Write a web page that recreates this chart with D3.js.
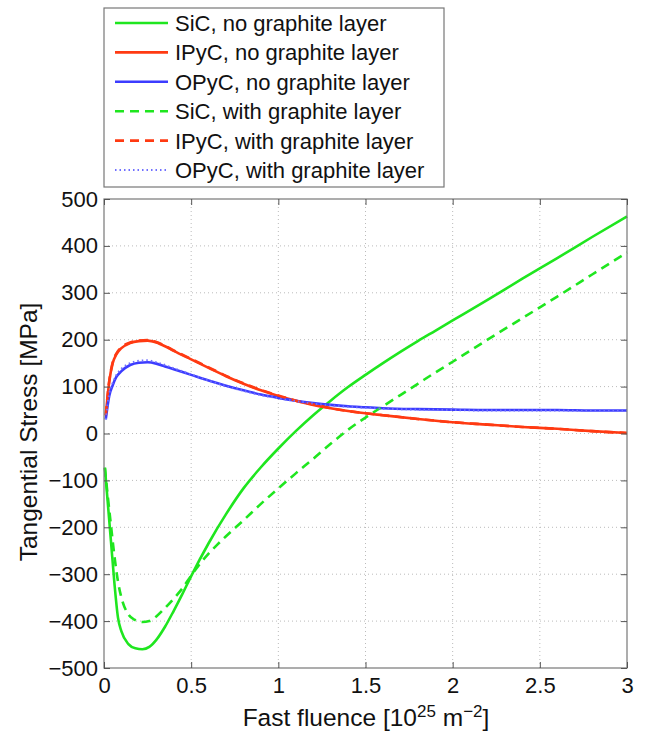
<!DOCTYPE html>
<html><head><meta charset="utf-8">
<script src="https://cdn.jsdelivr.net/npm/d3@7"></script>
<style>body{margin:0;background:#fff}text{font-family:"Liberation Sans",Arial,sans-serif;fill:#111}</style>
</head><body><svg id="c" width="646" height="734"></svg>
<script>
// ---- data ----
const xTicks = [0, 0.5, 1, 1.5, 2, 2.5, 3];
const yTicks = [-500, -400, -300, -200, -100, 0, 100, 200, 300, 400, 500];

const sicNoX = [0.005,0.02,0.04,0.06,0.08,0.1,0.14,0.18,0.22,0.26,0.3,0.35,0.4,0.45,0.5,0.6,0.7,0.8,0.9,1.0,1.1,1.2,1.3,1.4,1.5,1.6,1.7,1.8,1.9,2.0,2.2,2.4,2.6,2.8,3.0];
const sicNoY = [-73,-140,-230,-320,-392,-422,-449,-458,-460,-455,-440,-412,-378,-342,-304,-234,-172,-117,-72,-32,5,39,70,99,125,150,174,197,219,241,285,330,374,419,463];

const sicGrX = [0.005,0.02,0.04,0.06,0.08,0.1,0.14,0.18,0.22,0.26,0.3,0.35,0.4,0.45,0.5,0.55,0.6,0.65,0.7,0.8,0.9,1.0,1.1,1.2,1.3,1.4,1.5,1.6,1.7,1.8,1.9,2.0,2.2,2.4,2.6,2.8,3.0];
const sicGrY = [-73,-128,-196,-262,-315,-350,-386,-398,-402,-400,-390,-372,-352,-330,-303,-278,-256,-237,-219,-185,-150,-117,-85,-54,-22,8,34,58,82,106,130,153,200,246,292,339,386];

const pyX = [0.01,0.03,0.05,0.07,0.1,0.15,0.2,0.25,0.3,0.35,0.4,0.5,0.6,0.7,0.8,0.9,1.0,1.1,1.2,1.3,1.4,1.5,1.6,1.8,2.0,2.2,2.4,2.6,2.8,3.0];
const ipycNoY = [38,110,150,168,182,193,197,198,194,186,176,158,140,122,106,92,80,70,61,54,48,43,39,31,24,19,14,10,5,1];
const ipycGrY = [39,112,152,170,184,194,198,199,195,187,177,159,141,123,107,93,81,70,62,54,48,43,39,31,24,19,14,10,5,1];
const opycNoY = [30,80,103,120,133,146,151,152,149,143,137,125,113,102,92,83,76,70,65,61,58,56,54,52,51,50,50,50,49,49];
const opycGrY = [30,85,108,124,138,150,155,156,152,146,139,126,113,101,91,82,75,69,64,60,57,55,53,51,50,49,49,49,48,48];

const seriesNames = ["SiC, no graphite layer","IPyC, no graphite layer","OPyC, no graphite layer","SiC, with graphite layer","IPyC, with graphite layer","OPyC, with graphite layer"];
const seriesColors = ["#1fe61f","#ff3a12","#3c3cff","#1fe61f","#ff3a12","#6f6fff"];
const seriesDash = [null,null,null,"9,6","9,6","1.5,3"];
const seriesX = [sicNoX, pyX, pyX, sicGrX, pyX, pyX];
const seriesY = [sicNoY, ipycNoY, opycNoY, sicGrY, ipycGrY, opycGrY];

// ---- layout ----
const L = 104, R = 627, T = 199, B = 668;
const svg = d3.select("#c");
const x = d3.scaleLinear().domain([0, 3]).range([L, R]);
const y = d3.scaleLinear().domain([-500, 500]).range([B, T]);

// grid
const g = svg.append("g");
g.selectAll(".gx").data(xTicks.filter(v => v > 0 && v < 3)).join("line")
  .attr("x1", d => x(d)).attr("x2", d => x(d)).attr("y1", T).attr("y2", B)
  .attr("stroke", "#bbb").attr("stroke-width", 1).attr("stroke-dasharray", "1,3");
g.selectAll(".gy").data(yTicks.filter(v => v > -500 && v < 500)).join("line")
  .attr("y1", d => y(d)).attr("y2", d => y(d)).attr("x1", L).attr("x2", R)
  .attr("stroke", "#bbb").attr("stroke-width", 1).attr("stroke-dasharray", "1,3");

// series
const line = d3.line().x(d => x(d[0])).y(d => y(d[1])).curve(d3.curveMonotoneX);
seriesNames.forEach((n, i) => {
  const pts = seriesX[i].map((v, j) => [v, seriesY[i][j]]);
  svg.append("path").attr("d", line(pts)).attr("fill", "none")
    .attr("stroke", seriesColors[i]).attr("stroke-width", i === 5 ? 2 : 2.6)
    .attr("stroke-dasharray", seriesDash[i]);
});

// axes (box with inward ticks)
const ax = svg.append("g");
ax.append("rect").attr("x", L).attr("y", T).attr("width", R - L).attr("height", B - T)
  .attr("fill", "none").attr("stroke", "#777").attr("stroke-width", 1.2);
const axB = d3.axisBottom(x).tickValues(xTicks).tickSize(-6).tickFormat(d3.format("~g"));
const axT = d3.axisTop(x).tickValues(xTicks).tickSize(-6).tickFormat("");
const axLft = d3.axisLeft(y).tickValues(yTicks).tickSize(-6).tickFormat(d3.format("d"));
const axRt = d3.axisRight(y).tickValues(yTicks).tickSize(-6).tickFormat("");
function style(sel) {
  sel.select(".domain").remove();
  sel.selectAll(".tick line").attr("stroke", "#555");
  sel.selectAll(".tick text").attr("font-size", 22).attr("fill", "#111")
    .attr("font-family", '"Liberation Sans", Arial, sans-serif');
}
ax.append("g").attr("transform", `translate(0,${B})`).call(axB).call(style)
  .selectAll(".tick text").attr("dy", 0).attr("y", 25);
ax.append("g").attr("transform", `translate(0,${T})`).call(axT).call(style);
ax.append("g").attr("transform", `translate(${L},0)`).call(axLft).call(style)
  .selectAll(".tick text").attr("x", -6).text(d => d < 0 ? "\u2212" + Math.abs(d) : d);
ax.append("g").attr("transform", `translate(${R},0)`).call(axRt).call(style);

// axis titles
const xt = svg.append("text").attr("x", 366).attr("y", 726).attr("text-anchor", "middle").attr("font-size", 24.5);
xt.append("tspan").text("Fast fluence [10");
xt.append("tspan").attr("dy", -9).attr("font-size", 17).text("25");
xt.append("tspan").attr("dy", 9).text(" m");
xt.append("tspan").attr("dy", -9).attr("font-size", 17).text("\u22122");
xt.append("tspan").attr("dy", 9).text("]");
svg.append("text").attr("transform", "translate(37,432) rotate(-90)")
  .attr("text-anchor", "middle").attr("font-size", 24.5).text("Tangential Stress [MPa]");

// legend
const lg = svg.append("g");
lg.append("rect").attr("x", 104).attr("y", 8).attr("width", 340).attr("height", 179)
  .attr("fill", "#fff").attr("stroke", "#777").attr("stroke-width", 1.2);
seriesNames.forEach((n, i) => {
  const yy = 23 + i * 29.4;
  lg.append("line").attr("x1", 115).attr("x2", 168).attr("y1", yy).attr("y2", yy)
    .attr("stroke", seriesColors[i]).attr("stroke-width", i === 5 ? 2 : 2.6)
    .attr("stroke-dasharray", seriesDash[i]);
  lg.append("text").attr("x", 175).attr("y", yy).attr("dy", "0.36em")
    .attr("font-size", 22).text(n);
});
</script></body></html>
